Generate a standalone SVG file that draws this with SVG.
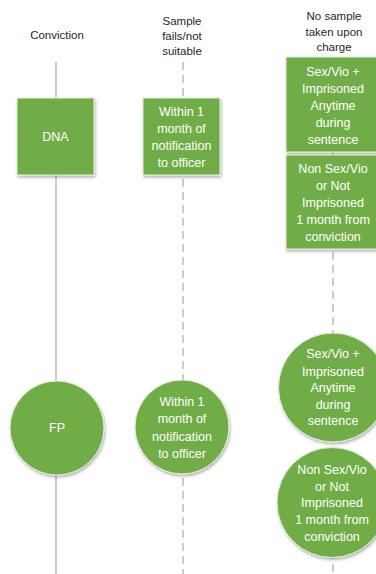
<svg xmlns="http://www.w3.org/2000/svg" width="376" height="574" viewBox="0 0 376 574">
<style>
.hdr{font-family:"Liberation Sans",Arial,sans-serif;font-size:11.5px;fill:#262626;text-anchor:middle}
.lbl{font-family:"Liberation Sans",Arial,sans-serif;font-size:12.5px;fill:#ffffff;text-anchor:middle}
.node{fill:#70ad47;stroke:#e3eedc;stroke-width:1;filter:url(#sh)}
.solid{stroke:#bfbfbf;stroke-width:1.6;fill:none}
.dash{stroke:#bfbfbf;stroke-width:1.6;fill:none;stroke-dasharray:8,5}
</style>
<defs>
<filter id="sh" x="-20%" y="-20%" width="140%" height="140%">
<feDropShadow dx="1" dy="2" stdDeviation="1.5" flood-color="#000" flood-opacity="0.3"/>
</filter>
</defs>
<rect width="376" height="574" fill="#ffffff"/>
<g id="headers">
<text class="hdr" x="57" y="39">Conviction</text>
<text class="hdr" x="182" y="25">Sample</text>
<text class="hdr" x="182" y="40">fails/not</text>
<text class="hdr" x="182" y="55">suitable</text>
<text class="hdr" x="334" y="20">No sample</text>
<text class="hdr" x="334" y="36">taken upon</text>
<text class="hdr" x="334" y="51">charge</text>
</g>
<g id="connectors">
<line class="solid" x1="56" y1="62" x2="56" y2="574"/>
<line class="dash" x1="183" y1="62" x2="183" y2="574"/>
<line class="dash" x1="333" y1="57" x2="333" y2="574"/>
</g>
<g id="dna"><rect class="node" x="17" y="98" width="77" height="77"/><text class="lbl" x="55.5" y="141">DNA</text></g>
<g id="dna-within"><rect class="node" x="143" y="98" width="77" height="77"/>
<text class="lbl" x="181.5" y="116">Within 1</text><text class="lbl" x="181.5" y="133">month of</text><text class="lbl" x="181.5" y="150">notification</text><text class="lbl" x="181.5" y="167">to officer</text></g>
<g id="dna-sexvio"><rect class="node" x="286" y="57" width="95" height="95"/>
<text class="lbl" x="333" y="76">Sex/Vio +</text><text class="lbl" x="333" y="93">Imprisoned</text><text class="lbl" x="333" y="110">Anytime</text><text class="lbl" x="333" y="127">during</text><text class="lbl" x="333" y="144">sentence</text></g>
<g id="dna-nonsexvio"><rect class="node" x="286" y="155" width="95" height="94"/>
<text class="lbl" x="333" y="173">Non Sex/Vio</text><text class="lbl" x="333" y="190">or Not</text><text class="lbl" x="333" y="207">Imprisoned</text><text class="lbl" x="333" y="224">1 month from</text><text class="lbl" x="333" y="241">conviction</text></g>
<g id="fp"><circle class="node" cx="57" cy="428" r="47"/><text class="lbl" x="57" y="432">FP</text></g>
<g id="fp-within"><circle class="node" cx="182" cy="427" r="47"/>
<text class="lbl" x="182" y="406">Within 1</text><text class="lbl" x="182" y="423">month of</text><text class="lbl" x="182" y="441">notification</text><text class="lbl" x="182" y="458">to officer</text></g>
<g id="fp-sexvio"><circle class="node" cx="333" cy="387.5" r="54.5"/>
<text class="lbl" x="333" y="358">Sex/Vio +</text><text class="lbl" x="333" y="376">Imprisoned</text><text class="lbl" x="333" y="392">Anytime</text><text class="lbl" x="333" y="409">during</text><text class="lbl" x="333" y="425">sentence</text></g>
<g id="fp-nonsexvio"><circle class="node" cx="332" cy="502.5" r="55"/>
<text class="lbl" x="332" y="474">Non Sex/Vio</text><text class="lbl" x="332" y="491">or Not</text><text class="lbl" x="332" y="507">Imprisoned</text><text class="lbl" x="332" y="524">1 month from</text><text class="lbl" x="332" y="541">conviction</text></g>
</svg>
